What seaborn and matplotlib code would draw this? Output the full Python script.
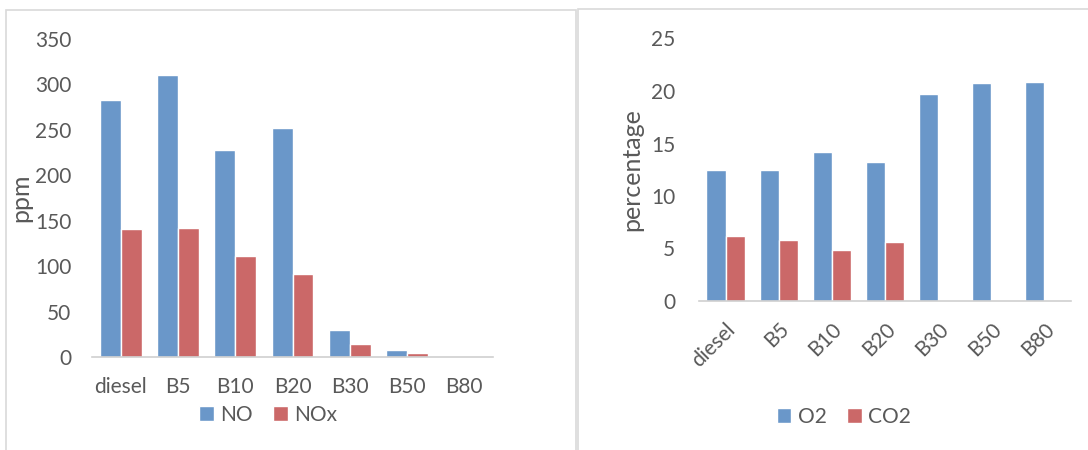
import numpy as np
import pandas as pd
import matplotlib
matplotlib.use("Agg")
import matplotlib.pyplot as plt
from matplotlib.patches import Rectangle
import seaborn as sns

# Blends tested
blends = ["diesel", "B5", "B10", "B20", "B30", "B50", "B80"]

# Nitrogen oxides (ppm)
no_ppm = [283, 310, 228, 252, 30, 8, 0]
nox_ppm = [141, 142, 111, 92, 15, 5, 0]

# Exhaust gas composition (percentage)
o2_pct = [12.5, 12.5, 14.2, 13.2, 19.7, 20.8, 20.9]
co2_pct = [6.2, 5.8, 4.9, 5.6, 0, 0, 0]

BLUE = "#6a97c9"
RED = "#cb6868"
TEXT = "#595959"
AXIS = "#d0d0d0"
FS = 15

sns.set_theme(style="white")
plt.rcParams["font.family"] = ["Lato", "DejaVu Sans"]

W, H = 1088, 450
fig = plt.figure(figsize=(W / 100, H / 100), dpi=100)


def px_axes(x0, x1, y_top, y_bottom):
    return fig.add_axes([x0 / W, 1 - y_bottom / H, (x1 - x0) / W, (y_bottom - y_top) / H])


def long_form(a, b, name_a, name_b):
    return pd.DataFrame({
        "blend": blends * 2,
        "value": list(a) + list(b),
        "gas": [name_a] * len(blends) + [name_b] * len(blends),
    })


def style_axes(ax, ymax, step):
    ax.set_ylim(0, ymax)
    ax.set_yticks(np.arange(0, ymax + step / 2, step))
    for s in ["top", "right", "left"]:
        ax.spines[s].set_visible(False)
    ax.spines["bottom"].set_color(AXIS)
    ax.spines["bottom"].set_linewidth(1.2)
    ax.tick_params(axis="both", length=0, colors=TEXT, labelsize=FS)
    ax.set_xlabel("")
    ax.set_facecolor("none")


# Chart frames
fig.add_artist(Rectangle((6 / W, -0.1), (576 - 6) / W, 1.1 - 10 / H, transform=fig.transFigure,
                         fill=False, edgecolor="#d9d9d9", linewidth=1.2))
fig.add_artist(Rectangle((578 / W, -0.1), 1.0, 1.1 - 9 / H, transform=fig.transFigure,
                         fill=False, edgecolor="#d9d9d9", linewidth=1.2))

# Left chart: NO / NOx
ax1 = px_axes(92, 493, 38.8, 357.3)
sns.barplot(data=long_form(no_ppm, nox_ppm, "NO", "NOx"), x="blend", y="value", hue="gas",
            palette=[BLUE, RED], width=0.73, saturation=1, ax=ax1, legend=True)
style_axes(ax1, 350, 50)
ax1.tick_params(axis="x", pad=14)
ax1.tick_params(axis="y", pad=15)
ax1.set_ylabel("ppm", fontsize=18, color=TEXT, labelpad=2)
ax1.legend(loc="center", bbox_to_anchor=(268 / W, 1 - 415 / H), bbox_transform=fig.transFigure,
           ncol=2, frameon=False, fontsize=FS, handlelength=0.7, handleheight=0.7,
           handletextpad=0.3, columnspacing=1.0, labelcolor=TEXT)

# Right chart: O2 / CO2
ax2 = px_axes(699, 1071, 38.5, 301)
sns.barplot(data=long_form(o2_pct, co2_pct, "O2", "CO2"), x="blend", y="value", hue="gas",
            palette=[BLUE, RED], width=0.72, saturation=1, ax=ax2, legend=True)
style_axes(ax2, 25, 5)
ax2.tick_params(axis="x", pad=13)
ax2.tick_params(axis="y", pad=17)
for lbl in ax2.get_xticklabels():
    lbl.set_rotation(45)
    lbl.set_ha("right")
    lbl.set_rotation_mode("anchor")
ax2.set_ylabel("percentage", fontsize=18, color=TEXT, labelpad=6)
ax2.legend(loc="center", bbox_to_anchor=(844 / W, 1 - 417 / H), bbox_transform=fig.transFigure,
           ncol=2, frameon=False, fontsize=FS, handlelength=0.7, handleheight=0.7,
           handletextpad=0.3, columnspacing=1.0, labelcolor=TEXT)

fig.savefig("out.png", dpi=100, facecolor="white")
